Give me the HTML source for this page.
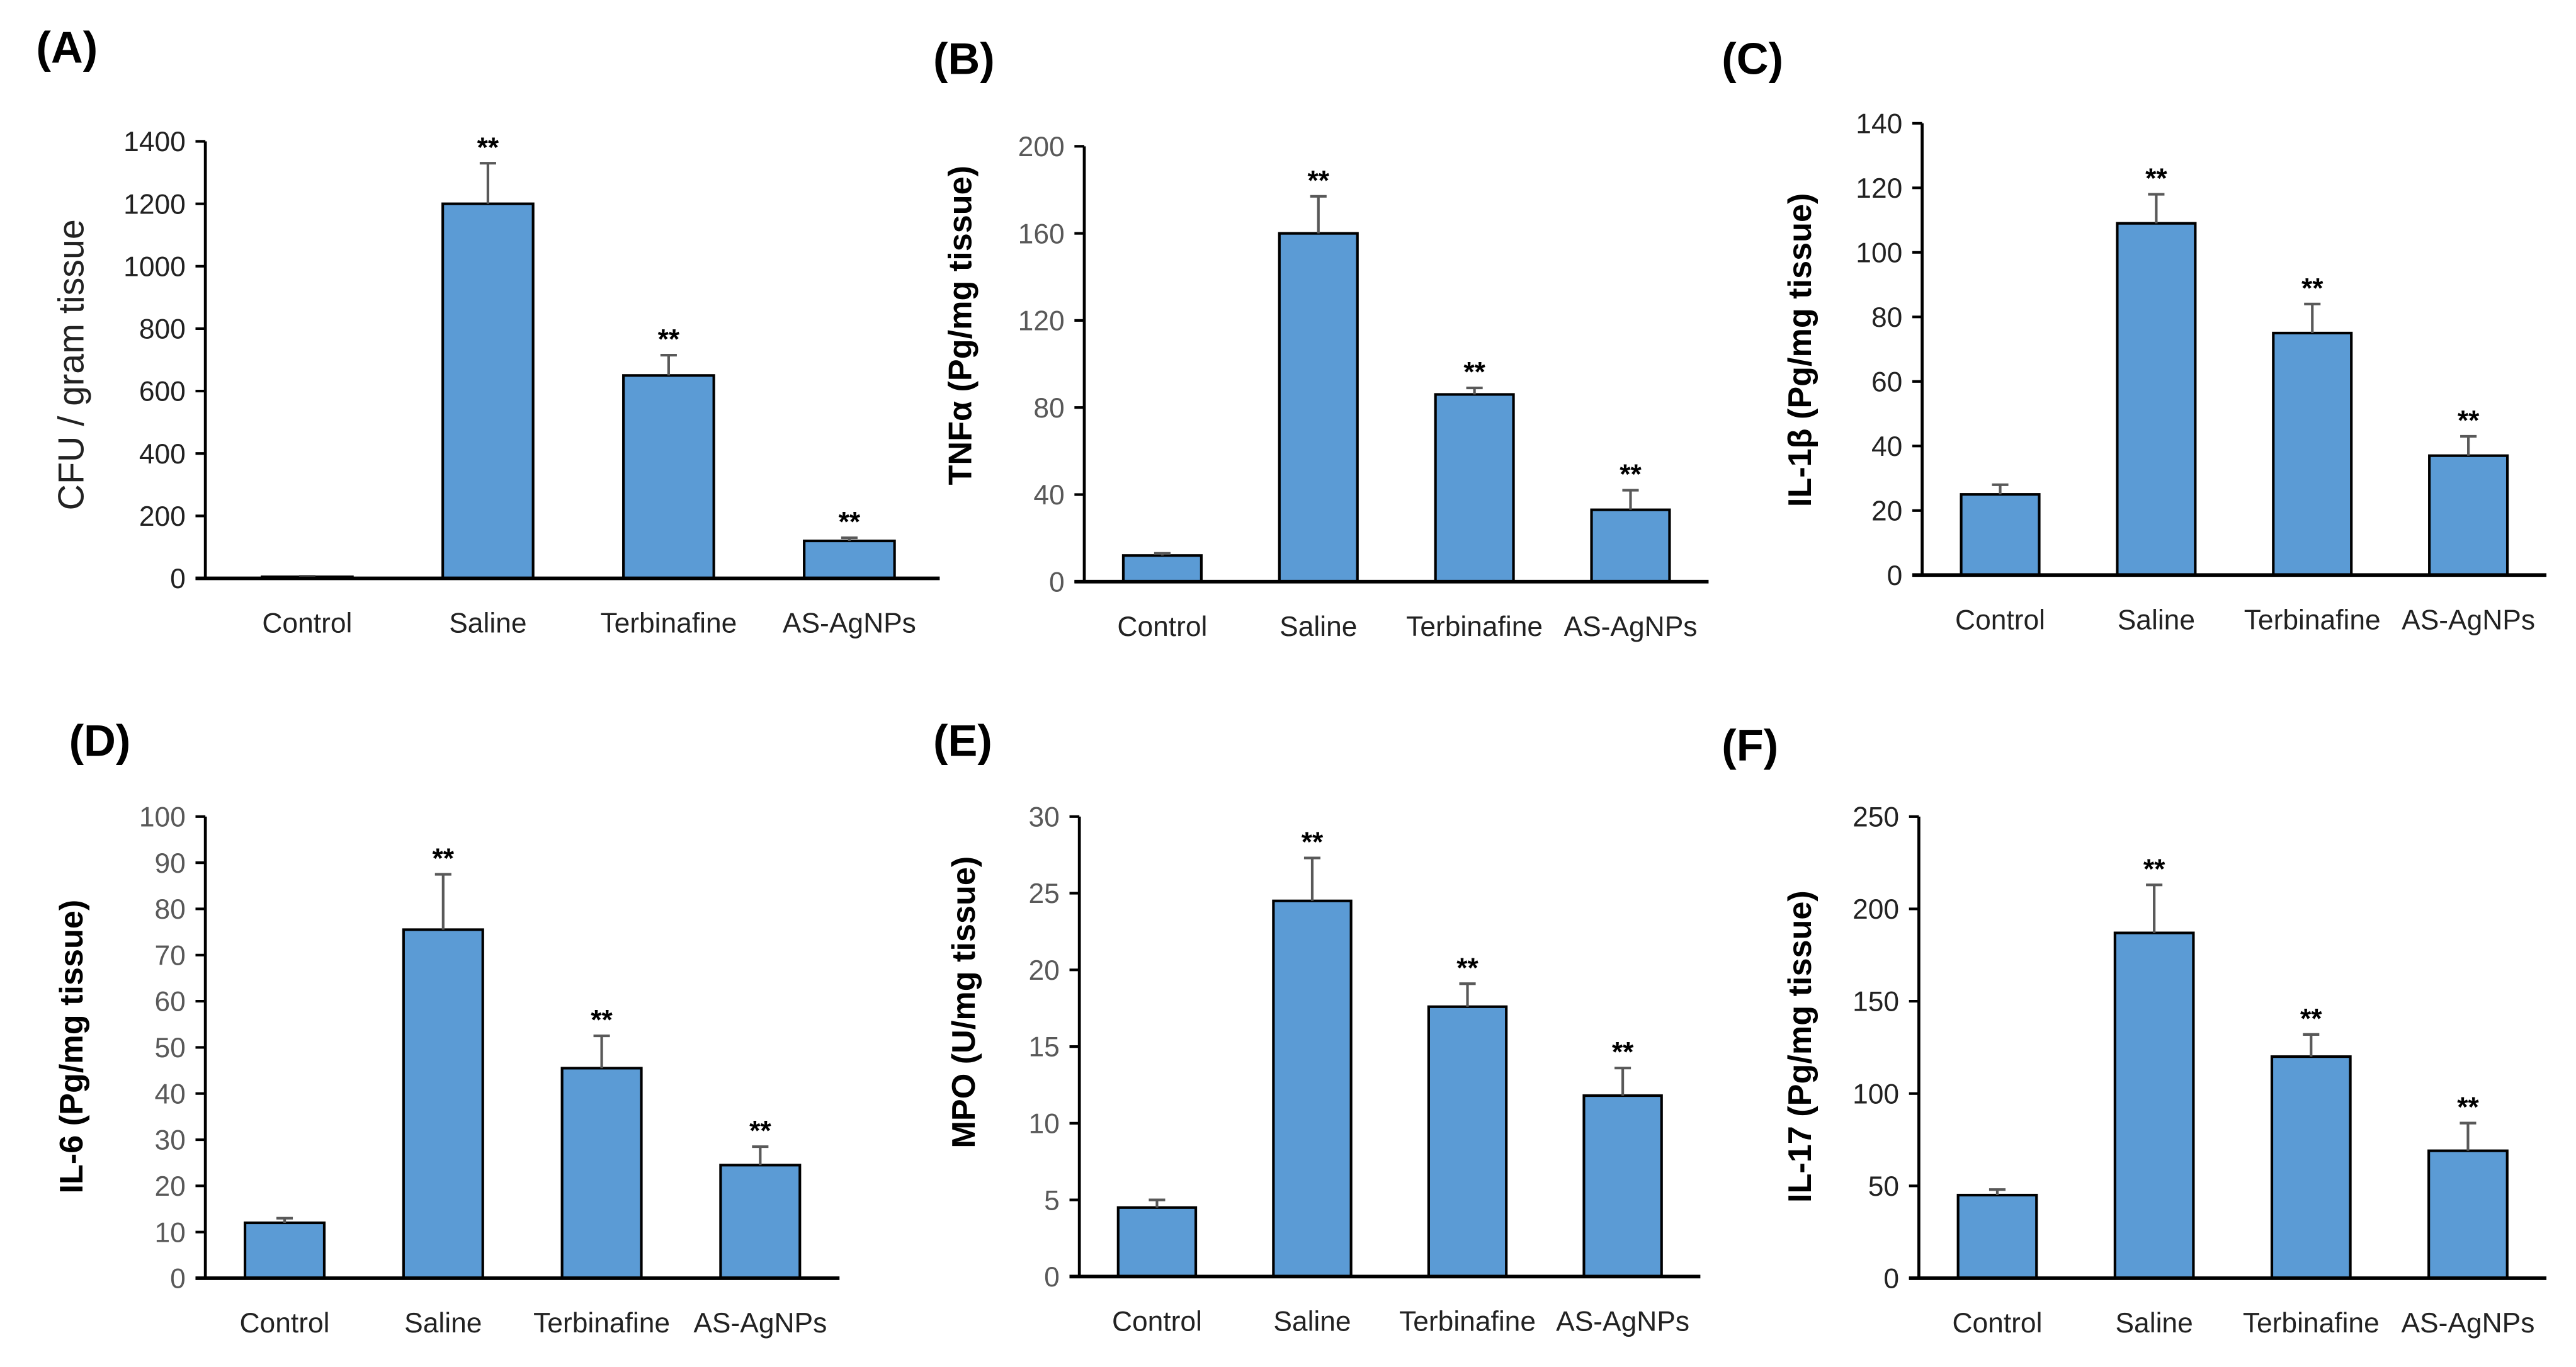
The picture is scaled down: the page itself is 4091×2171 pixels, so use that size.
<!DOCTYPE html>
<html><head><meta charset="utf-8"><style>
html,body{margin:0;padding:0;background:#fff;}
svg{display:block;}
text{font-family:"Liberation Sans",sans-serif;}
</style></head><body>
<svg id="fig" width="4091" height="2171" viewBox="0 0 1568 832" xmlns="http://www.w3.org/2000/svg">
<rect width="1568" height="832" fill="#fff"/>
</svg>
<script>
const categories = ["Control","Saline","Terbinafine","AS-AgNPs"];
const valuesA = [5,1200,650,120];   const errorsA = [2,130,65,10];
const valuesB = [12,160,86,33];     const errorsB = [1,17,3,9];
const valuesC = [25,109,75,37];     const errorsC = [3,9,9,6];
const valuesD = [12,75.5,45.5,24.5];const errorsD = [1,12,7,4];
const valuesE = [4.5,24.5,17.6,11.8];const errorsE = [0.5,2.8,1.5,1.8];
const valuesF = [45,187,120,69];    const errorsF = [3,26,12,15];
const ticksA = [0,200,400,600,800,1000,1200,1400];
const ticksB = [0,40,80,120,160,200];
const ticksC = [0,20,40,60,80,100,120,140];
const ticksD = [0,10,20,30,40,50,60,70,80,90,100];
const ticksE = [0,5,10,15,20,25,30];
const ticksF = [0,50,100,150,200,250];

const NS="http://www.w3.org/2000/svg";
const svg=document.getElementById('fig');
function mk(tag,attrs,parent){const e=document.createElementNS(NS,tag);for(const k in attrs)e.setAttribute(k,attrs[k]);(parent||svg).appendChild(e);return e;}

const panels=[
 {id:'a',letter:'(A)',lx:22,ly:38,ax:125,x0:132,x1:572,y0:352,y1:86,ticks:ticksA,vals:valuesA,errs:errorsA,title:'CFU / gram tissue',tx:45,ty:222,bold:false,tc:'#222',fs:22},
 {id:'b',letter:'(B)',lx:568,ly:45,ax:660,x0:660,x1:1040,y0:354,y1:89,ticks:ticksB,vals:valuesB,errs:errorsB,title:'TNFα (Pg/mg tissue)',tx:586,ty:198,bold:true,tc:'#595959',fs:20},
 {id:'c',letter:'(C)',lx:1048,ly:45,ax:1170,x0:1170,x1:1550,y0:350,y1:75,ticks:ticksC,vals:valuesC,errs:errorsC,title:'IL-1β (Pg/mg tissue)',tx:1097,ty:213,bold:true,tc:'#222',fs:20},
 {id:'d',letter:'(D)',lx:42,ly:460,ax:125,x0:125,x1:511,y0:778,y1:497,ticks:ticksD,vals:valuesD,errs:errorsD,title:'IL-6 (Pg/mg tissue)',tx:45,ty:637,bold:true,tc:'#595959',fs:20},
 {id:'e',letter:'(E)',lx:568,ly:460,ax:657,x0:657,x1:1035,y0:777,y1:497,ticks:ticksE,vals:valuesE,errs:errorsE,title:'MPO (U/mg tissue)',tx:588,ty:610,bold:true,tc:'#595959',fs:20},
 {id:'f',letter:'(F)',lx:1048,ly:463,ax:1168,x0:1168,x1:1550,y0:778,y1:497,ticks:ticksF,vals:valuesF,errs:errorsF,title:'IL-17 (Pg/mg tissue)',tx:1097,ty:637,bold:true,tc:'#222',fs:20}
];

panels.forEach(p=>{
  const g=mk('g',{});
  
  
  const maxT=p.ticks[p.ticks.length-1];
  const ys=v=>p.y0-(v/maxT)*(p.y0-p.y1);
  const cw=(p.x1-p.x0)/categories.length;
  const xs=i=>p.x0+cw*(i+0.5);
  const bw=cw*0.5;
  const lt=mk('text',{x:p.lx,y:p.ly,'font-size':27,'font-weight':'bold',fill:'#000'},g);
  lt.textContent=p.letter;
  
  
  p.vals.forEach((v,i)=>{
    const r=mk('rect',{x:xs(i)-bw/2,y:ys(v),width:bw,height:p.y0-ys(v),fill:'#5b9bd5',stroke:'#000','stroke-width':1.6},g);
    
    
    const e=p.errs[i];
    const eg=mk('g',{stroke:'#595959','stroke-width':1.6},g);
    
    
    mk('line',{x1:xs(i),x2:xs(i),y1:ys(v),y2:ys(v+e)},eg);
    mk('line',{x1:xs(i)-5,x2:xs(i)+5,y1:ys(v+e),y2:ys(v+e)},eg);
    if(i>0){
      const s=mk('text',{x:xs(i),y:ys(v+e)-4,'font-size':17,'font-weight':'bold','text-anchor':'middle',fill:'#000'},g);
      s.textContent='**';
      
      
    }
    const cl=mk('text',{x:xs(i),y:p.y0+33,'font-size':17,'text-anchor':'middle',fill:'#222'},g);
    cl.textContent=categories[i];
    
    
  });
  const ya=mk('line',{x1:p.ax,x2:p.ax,y1:p.y1,y2:p.y0,stroke:'#000','stroke-width':1.8},g);
  
  
  const xa=mk('line',{x1:p.ax-6,x2:p.x1,y1:p.y0,y2:p.y0,stroke:'#000','stroke-width':2.2},g);
  
  
  p.ticks.forEach(t=>{
    mk('line',{x1:p.ax-6,x2:p.ax,y1:ys(t),y2:ys(t),stroke:'#000','stroke-width':1.6},g);
    const tl=mk('text',{x:p.ax-12,y:ys(t)+6,'font-size':17,'text-anchor':'end',fill:p.tc},g);
    tl.textContent=t;
    
    
  });
  const tt=mk('text',{x:p.tx,y:p.ty,'font-size':p.fs,'font-weight':p.bold?'bold':'normal','text-anchor':'middle',fill:p.bold?'#000':'#222',transform:`rotate(-90 ${p.tx} ${p.ty})`,'dominant-baseline':'middle'},g);
  tt.textContent=p.title;
  
  
});
</script>
</body></html>
